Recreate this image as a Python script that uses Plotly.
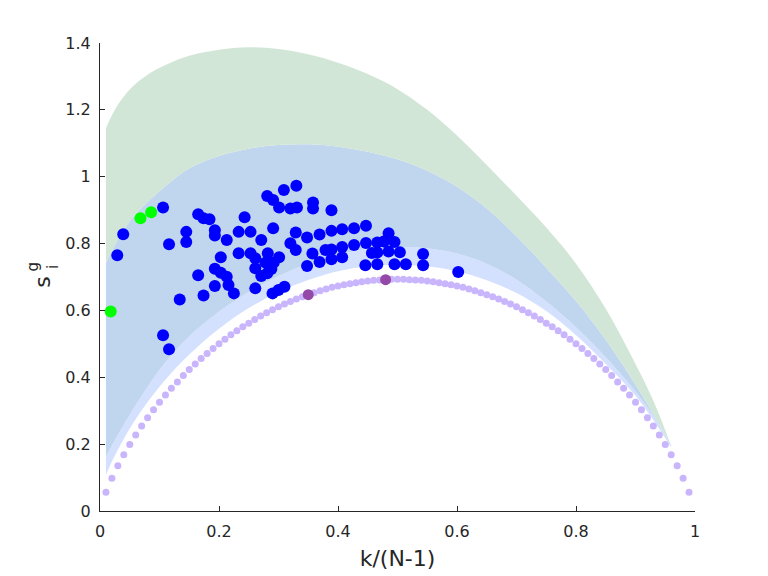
import plotly.graph_objects as go

# ---------------- data ----------------
# band boundary curves (x grid shared)
band_x = [0.01, 0.02, 0.035, 0.055, 0.08, 0.11, 0.15, 0.20, 0.25, 0.30, 0.35, 0.40,
          0.45, 0.50, 0.55, 0.60, 0.65, 0.70, 0.75, 0.80, 0.85, 0.90, 0.93, 0.96]
green_top = [1.145, 1.184, 1.228, 1.270, 1.305, 1.334, 1.362, 1.380, 1.387, 1.382, 1.366, 1.341,
             1.307, 1.262, 1.200, 1.123, 1.035, 0.943, 0.848, 0.740, 0.605, 0.440, 0.330, 0.195]
blue_top = [0.742, 0.778, 0.828, 0.878, 0.924, 0.972, 1.025, 1.062, 1.084, 1.095, 1.097, 1.090,
            1.075, 1.052, 1.018, 0.970, 0.905, 0.822, 0.728, 0.628, 0.512, 0.378, 0.290, 0.195]
lightblue_top = [0.162, 0.195, 0.243, 0.303, 0.372, 0.445, 0.523, 0.596, 0.655, 0.703, 0.740, 0.767,
                 0.784, 0.790, 0.786, 0.770, 0.740, 0.692, 0.627, 0.550, 0.460, 0.357, 0.285, 0.195]
lightblue_bottom = [0.108, 0.148, 0.200, 0.261, 0.326, 0.393, 0.468, 0.545, 0.607, 0.655, 0.691, 0.717,
                    0.732, 0.737, 0.732, 0.717, 0.690, 0.652, 0.598, 0.526, 0.440, 0.345, 0.272, 0.190]

# light purple reference dots
ref_x = [k / 100 for k in range(1, 100)]
ref_y = [0.056, 0.098, 0.135, 0.168, 0.199, 0.227, 0.254, 0.279, 0.303, 0.325,
         0.347, 0.367, 0.386, 0.405, 0.423, 0.440, 0.456, 0.471, 0.486, 0.500,
         0.514, 0.527, 0.539, 0.551, 0.562, 0.573, 0.583, 0.593, 0.602, 0.611,
         0.619, 0.627, 0.634, 0.641, 0.647, 0.653, 0.659, 0.664, 0.669, 0.673,
         0.677, 0.680, 0.683, 0.686, 0.688, 0.690, 0.691, 0.692, 0.693, 0.693,
         0.693, 0.692, 0.691, 0.690, 0.688, 0.686, 0.683, 0.680, 0.677, 0.673,
         0.669, 0.664, 0.659, 0.653, 0.647, 0.641, 0.634, 0.627, 0.619, 0.611,
         0.602, 0.593, 0.583, 0.573, 0.562, 0.551, 0.539, 0.527, 0.514, 0.500,
         0.486, 0.471, 0.456, 0.440, 0.423, 0.405, 0.386, 0.367, 0.347, 0.325,
         0.303, 0.279, 0.254, 0.227, 0.199, 0.168, 0.135, 0.098, 0.056]

# highlighted purple dots
hl_x = [0.35, 0.48]
hl_y = [0.647, 0.692]

# blue points
blue_x = [0.029, 0.039, 0.106, 0.116, 0.145, 0.145, 0.165, 0.174, 0.184, 0.193,
          0.193, 0.213, 0.203, 0.193, 0.203, 0.165, 0.193, 0.174, 0.134, 0.106,
          0.116, 0.213, 0.216, 0.225, 0.243, 0.233, 0.253, 0.271, 0.233, 0.253,
          0.261, 0.282, 0.301, 0.278, 0.292, 0.261, 0.288, 0.271, 0.281, 0.261,
          0.290, 0.300, 0.310, 0.281, 0.291, 0.301, 0.309, 0.330, 0.320, 0.331,
          0.358, 0.358, 0.389, 0.291, 0.329, 0.320, 0.329, 0.348, 0.369, 0.389,
          0.407, 0.427, 0.447, 0.485, 0.357, 0.369, 0.348, 0.379, 0.389, 0.407,
          0.389, 0.407, 0.427, 0.447, 0.466, 0.477, 0.495, 0.457, 0.466, 0.485,
          0.504, 0.543, 0.446, 0.466, 0.495, 0.514, 0.543, 0.602]
blue_y = [0.765, 0.828, 0.908, 0.798, 0.835, 0.805, 0.888, 0.876, 0.873, 0.840,
          0.824, 0.811, 0.759, 0.725, 0.713, 0.705, 0.673, 0.645, 0.633, 0.526,
          0.484, 0.701, 0.676, 0.651, 0.879, 0.835, 0.835, 0.811, 0.771, 0.771,
          0.756, 0.771, 0.759, 0.743, 0.743, 0.726, 0.724, 0.703, 0.711, 0.666,
          0.651, 0.661, 0.671, 0.942, 0.930, 0.908, 0.960, 0.973, 0.905, 0.908,
          0.923, 0.905, 0.900, 0.846, 0.833, 0.801, 0.781, 0.818, 0.827, 0.838,
          0.843, 0.846, 0.853, 0.831, 0.770, 0.745, 0.733, 0.781, 0.782, 0.790,
          0.753, 0.759, 0.796, 0.802, 0.803, 0.806, 0.805, 0.772, 0.773, 0.776,
          0.774, 0.769, 0.735, 0.738, 0.738, 0.738, 0.735, 0.715]

# green points
green_x = [0.018, 0.068, 0.086]
green_y = [0.597, 0.876, 0.894]

x_ticks = [0, 0.2, 0.4, 0.6, 0.8, 1]
x_ticklabels = ["0", "0.2", "0.4", "0.6", "0.8", "1"]
y_ticks = [0, 0.2, 0.4, 0.6, 0.8, 1, 1.2, 1.4]
y_ticklabels = ["0", "0.2", "0.4", "0.6", "0.8", "1", "1.2", "1.4"]

# ---------------- figure ----------------
fig = go.Figure()

band_line = dict(width=0, shape="spline", smoothing=1, color="rgba(0,0,0,0)")
fig.add_trace(go.Scatter(x=band_x, y=lightblue_bottom, mode="lines", line=band_line,
                         hoverinfo="skip", showlegend=False))
fig.add_trace(go.Scatter(x=band_x, y=lightblue_top, mode="lines", fill="tonexty",
                         fillcolor="#d3e0fe", line=band_line,
                         hoverinfo="skip", showlegend=False))
fig.add_trace(go.Scatter(x=band_x, y=blue_top, mode="lines", fill="tonexty",
                         fillcolor="#c0d5ee", line=band_line,
                         hoverinfo="skip", showlegend=False))
fig.add_trace(go.Scatter(x=band_x, y=green_top, mode="lines", fill="tonexty",
                         fillcolor="#d2e6d7", line=band_line,
                         hoverinfo="skip", showlegend=False))

fig.add_trace(go.Scatter(x=ref_x, y=ref_y, mode="markers",
                         marker=dict(size=7, color="#c9b5fc", line=dict(width=0)),
                         showlegend=False))
fig.add_trace(go.Scatter(x=hl_x, y=hl_y, mode="markers",
                         marker=dict(size=11, color="#9448a7", line=dict(width=0)),
                         showlegend=False))
fig.add_trace(go.Scatter(x=blue_x, y=blue_y, mode="markers",
                         marker=dict(size=12, color="#0000ff", line=dict(width=0)),
                         showlegend=False))
fig.add_trace(go.Scatter(x=green_x, y=green_y, mode="markers",
                         marker=dict(size=12, color="#00ff00", line=dict(width=0)),
                         showlegend=False))

axis_common = dict(showgrid=False, zeroline=False, showline=True, linecolor="#262626",
                   linewidth=1, ticks="inside", ticklen=5, tickcolor="#262626",
                   automargin=False,
                   tickfont=dict(family="DejaVu Sans", size=16, color="#262626"))

label_font = dict(family="DejaVu Sans", color="#262626")

fig.update_layout(
    width=768, height=576,
    margin=dict(l=100, r=73, t=43, b=65),
    paper_bgcolor="white", plot_bgcolor="white",
    xaxis=dict(range=[0, 1], tickvals=x_ticks, ticktext=x_ticklabels,
               ticklabelstandoff=6,
               title=dict(text="k/(N-1)", font=dict(size=22, **label_font), standoff=10),
               **axis_common),
    yaxis=dict(range=[0, 1.4], tickvals=y_ticks, ticktext=y_ticklabels,
               ticklabelstandoff=5,
               **axis_common),
    annotations=[
        # y-axis label  s_i^g  (super- and subscript stacked, rotated)
        dict(text="s", xref="paper", yref="paper", x=-0.098, y=0.489,
             xanchor="center", yanchor="middle", textangle=-90, showarrow=False,
             font=dict(size=22, **label_font)),
        dict(text="g", xref="paper", yref="paper", x=-0.113, y=0.522,
             xanchor="center", yanchor="middle", textangle=-90, showarrow=False,
             font=dict(size=15, **label_font)),
        dict(text="i", xref="paper", yref="paper", x=-0.080, y=0.522,
             xanchor="center", yanchor="middle", textangle=-90, showarrow=False,
             font=dict(size=15, **label_font)),
    ],
)

# remove the page's default body margin so the 768x576 figure fills the window
fig.write_html("out.html", config={"displayModeBar": False},
               post_script="document.body.style.margin='0px';")
